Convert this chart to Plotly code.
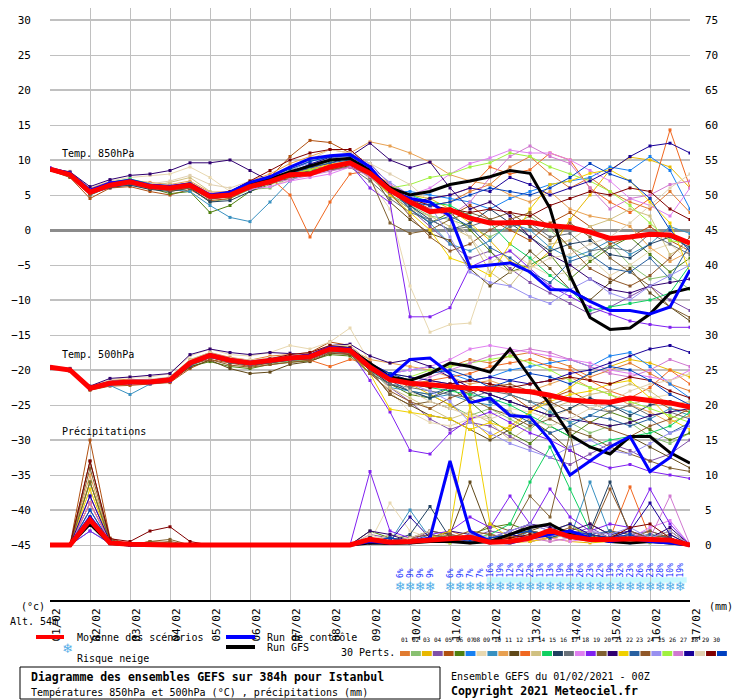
import plotly.graph_objects as go

# time axis: hours from 01/02 00Z, 12h steps
hours = [0, 12, 24, 36, 48, 60, 72, 84, 96, 108, 120, 132, 144, 156, 168, 180, 192,
         204, 216, 228, 240, 252, 264, 276, 288, 300, 312, 324, 336, 348, 360, 372, 384]
day_ticks = [0, 24, 48, 72, 96, 120, 144, 168, 192, 216, 240, 264, 288, 312, 336, 360, 384]
day_labels = ["01/02", "02/02", "03/02", "04/02", "05/02", "06/02", "07/02", "08/02", "09/02",
              "10/02", "11/02", "12/02", "13/02", "14/02", "15/02", "16/02", "17/02"]

member_colors = ["#e07b30", "#88c070", "#e8b800", "#8050a8", "#b05010", "#508010", "#1880f0",
                 "#e8d8b0", "#3890c0", "#e8a050", "#604818", "#f06820", "#d0c080", "#10d060",
                 "#204060", "#687078", "#e080f0", "#8020f0", "#806030", "#300070", "#f0d000",
                 "#2860a0", "#905828", "#9890f0", "#a0f040", "#d078d0", "#180098", "#e0d0b0",
                 "#800000", "#0040c0"]

# Temp 850hPa (°C)
t850_mean = [8.7, 7.9, 5.4, 6.4, 6.9, 6.2, 6.0, 6.4, 4.8, 5.0, 6.2, 6.9, 7.9, 8.0, 9.0, 9.6, 8.1,
             5.7, 4.0, 2.6, 2.9, 1.7, 1.0, 1.0, 1.1, 0.6, 0.4, -0.3, -1.2, -1.0, -0.6, -0.7, -1.9]
t850_ctrl = [8.8, 8.1, 5.7, 6.7, 7.1, 6.4, 6.2, 6.6, 5.0, 5.4, 6.8, 7.6, 9.0, 10.2, 10.6, 10.8, 9.0,
             5.5, 4.5, 4.0, 2.0, -5.3, -5.0, -4.7, -6.0, -8.5, -8.6, -10.2, -11.5, -11.5, -12.0, -11.0, -5.7]
t850_gfs = [8.6, 8.0, 5.5, 6.5, 6.9, 6.2, 6.1, 6.5, 4.9, 5.2, 6.5, 7.3, 8.3, 9.2, 10.0, 10.2, 8.5,
            6.0, 5.0, 5.5, 6.5, 7.0, 7.6, 8.5, 8.1, 3.1, -6.5, -12.5, -14.2, -14.0, -12.0, -9.0, -8.3]
t850_members = [
    [8.8, 8.2, 5.0, 6.8, 7.2, 6.5, 5.5, 6.0, 4.5, 5.5, 6.8, 7.5, 9.0, 10.2, 10.5, 10.0, 8.5, 6.0, 4.5, 3.5, 4.0, 5.5, 6.5, 9.0, 10.5, 8.0, 6.0, 7.5, 5.5, 4.0, 3.0, 5.5, 2.5],
    [8.6, 7.6, 5.8, 6.2, 6.5, 5.8, 6.4, 6.0, 4.0, 4.5, 5.8, 6.0, 7.5, 8.5, 9.2, 9.8, 7.5, 5.0, 3.5, 2.0, 1.5, 0.5, -1.0, 0.5, 2.0, 0.0, -2.5, -4.0, -2.0, -5.0, -7.0, -6.5, -8.5],
    [8.7, 8.0, 5.5, 6.5, 7.0, 6.0, 6.2, 6.8, 5.2, 5.0, 6.0, 7.2, 8.0, 8.8, 10.0, 10.5, 8.0, 6.5, 5.0, 4.5, 3.0, 1.0, -1.5, -4.5, -5.5, -3.0, 1.5, 5.0, 8.6, 10.4, 10.0, 9.0, 6.0],
    [8.9, 7.8, 5.2, 6.0, 6.6, 6.4, 5.8, 6.5, 5.0, 4.8, 6.5, 7.0, 8.2, 9.0, 10.0, 11.0, 9.5, 6.5, 3.0, 0.5, -2.0, -4.0, -3.0, -5.5, -7.5, -9.0, -10.5, -12.0, -11.0, -9.5, -8.0, -10.0, -11.5],
    [8.5, 7.5, 4.5, 6.0, 6.2, 5.5, 5.0, 5.8, 4.2, 4.5, 6.0, 7.5, 10.5, 12.8, 12.5, 11.0, 9.0, 6.0, 4.5, 3.0, 2.0, 3.5, 1.5, 0.0, -1.5, 1.0, 2.5, 0.5, -2.0, -1.0, 0.5, -1.5, -3.0],
    [8.7, 7.7, 5.6, 6.6, 6.8, 6.0, 5.2, 5.5, 2.5, 3.5, 5.5, 6.5, 7.5, 8.0, 8.8, 9.5, 8.0, 5.0, 3.0, 1.0, 2.5, 0.0, -3.0, -6.0, -5.0, -3.5, -7.0, -4.5, -2.5, -1.0, -3.5, -6.0, -4.0],
    [8.8, 8.0, 5.4, 6.7, 7.0, 6.3, 6.0, 6.6, 5.0, 5.3, 6.4, 7.4, 8.5, 9.8, 10.4, 10.5, 8.0, 5.5, 5.5, 5.0, 4.5, 4.0, 3.0, 4.5, 5.5, 6.5, 7.0, 7.5, 9.0, 8.5, 10.5, 8.5, 3.0],
    [8.6, 8.4, 6.0, 7.0, 7.5, 7.8, 8.0, 9.0, 7.5, 5.5, 6.0, 6.5, 7.0, 8.5, 9.5, 10.5, 7.0, 3.0, -8.0, -14.6, -13.5, -13.3, -4.7, -3.0, -5.0, -6.5, -6.0, -4.0, -6.5, -5.0, -3.0, -2.0, -4.5],
    [8.7, 7.9, 5.0, 6.2, 6.5, 6.0, 5.8, 5.5, 3.5, 1.8, 1.2, 4.0, 7.0, 8.5, 9.0, 9.5, 8.5, 6.0, 3.5, 1.0, -2.0, -3.0, -1.5, 1.0, 0.0, -2.5, -4.0, -3.0, -1.5, -3.5, -2.0, 0.5, -0.5],
    [8.7, 8.1, 5.9, 6.9, 7.1, 6.8, 6.5, 7.0, 5.4, 5.5, 7.0, 8.0, 9.5, 10.5, 11.5, 11.0, 12.6, 12.0, 11.0, 9.7, 7.9, 7.0, 6.5, 5.0, 4.0, 5.5, 3.0, 2.0, 1.5, 0.5, -2.5, -4.5, -3.0],
    [8.5, 7.7, 5.3, 6.3, 6.7, 6.1, 5.7, 6.2, 4.4, 4.8, 5.9, 6.6, 7.4, 8.1, 8.6, 9.2, 8.4, 4.0, 1.5, -0.5, -1.5, -5.5, -8.0, -6.0, -3.0, -5.5, -8.5, -10.0, -7.5, -5.5, -9.0, -11.0, -13.0],
    [8.8, 8.1, 5.6, 6.6, 6.8, 6.3, 6.1, 6.5, 4.9, 5.4, 6.5, 7.5, 5.0, -1.0, 4.0, 8.0, 8.5, 6.5, 3.8, 4.5, 5.0, 6.0, 9.0, 8.0, 8.6, 11.0, 10.0, 6.0, 4.0, 2.5, 4.5, 14.3, 6.1],
    [8.6, 7.8, 5.5, 6.4, 6.8, 6.2, 6.8, 7.5, 5.5, 5.0, 6.5, 7.0, 7.5, 8.2, 9.0, 10.0, 7.5, 5.0, 3.0, 2.0, 0.5, -1.0, -6.0, -8.0, -4.5, -2.0, -1.5, 0.5, 1.5, 3.0, 2.0, -3.5, -2.0],
    [8.7, 8.0, 5.7, 6.8, 7.3, 6.6, 6.3, 6.7, 5.0, 5.2, 6.6, 7.3, 8.3, 9.0, 9.8, 10.2, 8.6, 6.2, 5.0, 4.0, 3.5, 2.0, 1.0, -2.0, -4.0, -6.5, -8.5, -11.5, -11.0, -10.5, -10.0, -9.0, -5.0],
    [8.6, 7.9, 5.2, 6.1, 6.4, 5.8, 5.5, 6.0, 4.0, 4.2, 5.5, 6.8, 7.8, 8.5, 9.2, 9.5, 7.8, 5.5, 3.5, 1.5, 0.0, 1.0, 3.0, 1.0, -1.0, -3.0, -2.0, -1.5, -3.5, -4.0, -2.0, -1.0, -2.5],
    [8.7, 7.8, 5.6, 6.5, 6.8, 6.2, 6.1, 6.5, 5.0, 5.0, 6.3, 7.0, 7.7, 8.3, 8.5, 9.0, 7.0, 4.5, 2.5, 1.5, 0.0, 0.5, 1.5, 0.5, 1.0, -1.0, -0.5, -3.0, -2.5, -3.0, -0.5, -2.0, -3.5],
    [8.8, 8.1, 5.6, 6.7, 6.9, 6.4, 6.3, 6.7, 5.2, 5.4, 5.8, 6.2, 7.0, 7.5, 8.0, 9.0, 8.0, 6.5, 5.0, 6.0, 8.0, 9.5, 10.3, 11.4, 11.0, 11.0, 10.0, 8.5, 7.0, 4.5, 3.5, 2.0, 6.0],
    [8.9, 8.2, 5.7, 6.9, 7.0, 6.6, 6.2, 6.5, 4.9, 5.2, 6.6, 7.5, 8.2, 8.8, 9.0, 9.4, 6.0, 3.9, -12.4, -12.4, -11.1, -5.3, -4.0, -3.0, -5.5, -8.0, -9.5, -11.0, -12.0, -13.0, -13.5, -13.9, -13.9],
    [8.6, 7.8, 5.3, 6.4, 6.8, 6.0, 5.6, 6.0, 4.6, 4.9, 6.1, 6.9, 7.8, 8.4, 8.9, 9.4, 7.5, 1.0, -0.5, 0.0, 1.5, 2.5, 1.5, 2.5, 0.5, -1.5, 1.0, -1.0, -4.0, -6.0, -8.0, -11.0, -12.5],
    [8.8, 8.3, 6.2, 7.2, 7.8, 8.0, 8.5, 9.6, 9.6, 10.0, 8.5, 7.0, 8.0, 9.0, 9.5, 10.5, 12.4, 10.0, 8.9, 9.7, 6.0, 3.0, 4.0, 2.0, -1.0, -3.5, -5.0, -7.0, -8.5, -9.0, -8.0, -7.5, -7.0],
    [8.7, 8.0, 5.6, 6.6, 6.9, 6.3, 6.1, 6.5, 4.9, 5.1, 6.3, 7.0, 8.0, 8.7, 9.4, 9.8, 8.0, 5.0, 2.5, 0.0, -4.0, -5.0, -6.5, -2.0, 3.0, 6.5, 7.0, 8.1, 8.6, 7.0, 4.0, 1.0, -6.0],
    [8.7, 7.9, 5.5, 6.5, 6.9, 6.2, 6.0, 6.4, 4.8, 5.1, 6.3, 7.0, 8.1, 8.9, 9.6, 10.0, 8.3, 5.8, 3.0, 1.0, 2.0, 0.5, -2.5, -4.0, -6.0, -7.5, -4.5, -3.5, -5.5, -6.0, -4.0, -7.0, -2.0],
    [8.5, 7.6, 5.0, 6.2, 6.7, 6.0, 5.7, 6.3, 4.5, 4.7, 6.0, 6.8, 7.6, 8.0, 8.6, 9.0, 7.9, 5.3, 2.0, -1.0, -3.0, -2.0, 0.0, 1.5, 2.5, 0.5, -2.5, -5.5, -7.0, -8.0, -6.5, -4.0, -1.0],
    [8.7, 8.0, 5.5, 6.6, 7.1, 6.5, 6.0, 6.2, 4.6, 5.0, 6.5, 7.5, 8.8, 9.5, 10.0, 10.6, 9.0, 6.8, 5.0, 3.5, -1.0, -6.0, -7.5, -8.0, -9.5, -10.5, -8.5, -7.0, -9.0, -10.0, -8.0, -6.5, -5.0],
    [8.6, 7.8, 5.4, 6.5, 6.8, 6.2, 6.2, 6.6, 5.0, 5.2, 6.5, 7.2, 8.0, 8.6, 9.1, 9.5, 8.0, 6.0, 6.5, 7.5, 8.0, 9.0, 9.6, 11.0, 10.5, 9.0, 8.0, 7.0, 5.5, 3.5, 1.0, -1.5, -2.0],
    [8.8, 8.1, 5.7, 6.6, 7.0, 6.3, 5.9, 6.2, 4.7, 5.0, 6.1, 6.8, 7.2, 7.8, 8.4, 9.0, 7.6, 5.4, 4.0, 3.0, 2.0, 4.0, 7.5, 10.5, 12.0, 10.5, 9.5, 6.0, 3.0, 4.5, 5.0, 6.5, 7.0],
    [8.7, 8.0, 5.5, 6.5, 6.9, 6.2, 6.0, 6.4, 4.9, 5.1, 6.3, 7.1, 8.2, 9.4, 10.4, 10.8, 8.5, 5.5, 4.0, 4.5, 5.0, 6.0, 5.5, 7.5, 6.5, 5.0, 6.0, 7.0, 8.5, 10.5, 12.0, 12.4, 11.0],
    [8.6, 7.9, 5.6, 6.6, 6.9, 6.6, 7.0, 7.8, 6.5, 6.0, 7.0, 7.5, 8.5, 10.0, 11.5, 11.0, 9.5, 8.0, 6.5, 4.0, 2.0, -1.0, -4.5, -6.0, -5.5, -4.0, -3.5, -2.0, -1.0, 1.0, 3.5, 6.0, 8.0],
    [8.7, 8.0, 5.5, 6.4, 6.8, 6.2, 6.0, 6.3, 5.0, 5.5, 7.0, 8.5, 10.0, 11.0, 11.5, 11.5, 9.0, 6.0, 4.5, 3.5, 3.0, 2.5, 3.0, 2.5, 2.0, 3.5, 4.5, 5.5, 5.0, 6.0, 5.5, 3.0, 1.5],
    [8.8, 8.1, 5.6, 6.7, 7.0, 6.4, 6.1, 6.6, 5.0, 5.3, 6.6, 7.6, 8.7, 9.8, 10.5, 10.6, 8.8, 6.0, 4.0, 3.5, 4.0, 5.0, 6.0, 5.5, 5.0, 6.0, 7.5, 9.5, 8.0, 7.0, 4.5, 0.0, -3.0],
]

# Temp 500hPa (°C)
t500_mean = [-19.6, -20.0, -22.6, -21.9, -21.7, -21.7, -21.4, -19.0, -17.9, -18.6, -19.0, -18.6, -18.3,
             -18.1, -17.0, -17.2, -19.6, -21.4, -21.9, -22.1, -22.4, -22.6, -22.7, -22.9, -23.1, -23.6,
             -24.3, -24.5, -24.6, -24.0, -24.3, -24.7, -25.3]
t500_ctrl = [-19.6, -20.0, -22.5, -21.8, -21.6, -21.6, -21.3, -18.9, -17.8, -18.5, -18.9, -18.5, -18.2,
             -17.9, -16.8, -17.0, -19.5, -21.0, -18.5, -18.3, -20.5, -24.7, -24.0, -26.5, -26.7, -30.0,
             -35.0, -33.0, -31.0, -29.5, -34.5, -32.5, -27.0]
t500_gfs = [-19.6, -20.0, -22.6, -21.9, -21.7, -21.7, -21.4, -19.0, -17.9, -18.6, -19.0, -18.6, -18.3,
            -18.0, -16.9, -17.1, -19.0, -21.0, -21.5, -20.5, -19.0, -19.5, -20.3, -17.0, -21.0, -25.0,
            -29.3, -31.0, -32.0, -29.5, -29.5, -31.8, -33.3]
t500_members = [
    [-19.5, -19.8, -22.4, -21.5, -21.3, -21.5, -21.0, -18.6, -17.5, -18.2, -18.6, -18.0, -17.8, -17.5, -16.5, -16.8, -19.0, -21.0, -21.5, -20.5, -19.5, -18.5, -19.0, -18.0, -17.5, -18.5, -19.5, -21.0, -20.0, -19.0, -20.5, -22.0, -23.0],
    [-19.7, -20.2, -22.7, -22.0, -21.9, -21.8, -21.7, -19.5, -18.2, -18.8, -19.4, -19.0, -18.8, -18.5, -17.2, -17.5, -20.0, -22.0, -23.0, -23.5, -25.0, -26.5, -25.5, -27.0, -28.5, -26.0, -27.5, -29.0, -28.0, -27.5, -29.5, -30.5, -29.0],
    [-19.6, -19.9, -22.5, -21.8, -21.6, -21.6, -21.2, -18.8, -17.8, -18.5, -19.0, -18.5, -18.2, -18.0, -16.8, -17.0, -19.5, -21.5, -22.0, -23.5, -25.0, -27.0, -29.5, -28.0, -26.0, -24.0, -22.5, -20.5, -19.5, -18.5, -19.0, -20.0, -21.0],
    [-19.8, -20.1, -22.8, -22.2, -22.0, -22.0, -21.6, -19.2, -18.0, -18.8, -19.3, -18.9, -18.5, -18.3, -17.3, -17.5, -19.0, -22.5, -24.5, -27.0, -28.5, -27.5, -28.0, -29.5, -31.0, -32.5, -33.5, -32.0, -30.5, -31.5, -33.0, -32.0, -30.0],
    [-19.5, -20.0, -22.9, -22.3, -22.2, -22.0, -21.8, -19.8, -18.5, -19.0, -19.5, -19.0, -18.5, -17.5, -16.0, -16.5, -19.0, -21.0, -22.5, -21.5, -22.0, -23.5, -22.0, -23.5, -25.5, -24.0, -23.0, -24.5, -26.0, -25.0, -24.0, -25.5, -26.0],
    [-19.6, -20.1, -22.6, -22.0, -21.8, -21.8, -21.5, -19.5, -18.8, -19.5, -19.8, -19.2, -18.9, -18.7, -17.8, -18.0, -20.5, -22.0, -23.5, -24.0, -22.5, -24.5, -27.0, -29.0, -30.5, -28.0, -29.5, -27.5, -26.0, -27.0, -28.5, -30.0, -29.0],
    [-19.6, -19.9, -22.5, -21.8, -21.6, -21.6, -21.3, -18.9, -17.8, -18.4, -18.8, -18.4, -18.1, -17.8, -16.7, -16.9, -19.3, -20.5, -20.0, -19.5, -20.5, -21.5, -21.0, -20.0, -19.5, -19.0, -18.5, -19.5, -18.0, -17.5, -19.5, -22.0, -24.0],
    [-19.5, -19.7, -22.3, -21.4, -21.0, -21.0, -20.5, -18.0, -17.0, -17.8, -18.0, -17.5, -16.5, -17.0, -16.0, -14.0, -19.0, -23.0, -26.0, -27.5, -28.0, -27.0, -26.5, -25.5, -26.0, -27.0, -25.5, -24.5, -26.0, -25.0, -24.0, -23.5, -25.0],
    [-19.7, -20.0, -22.6, -22.2, -23.5, -22.0, -21.6, -19.4, -18.2, -18.9, -19.3, -18.9, -18.6, -18.4, -17.4, -17.6, -20.0, -22.5, -23.0, -24.0, -23.5, -24.5, -25.0, -23.5, -24.5, -26.0, -27.5, -26.5, -25.0, -26.0, -27.0, -25.5, -26.5],
    [-19.5, -19.9, -22.4, -21.7, -21.5, -21.5, -21.2, -18.8, -17.7, -18.4, -18.8, -18.4, -18.1, -17.9, -16.8, -17.0, -18.5, -19.0, -19.5, -20.0, -21.0, -22.0, -21.5, -22.5, -23.0, -22.0, -21.0, -22.5, -23.5, -25.0, -26.0, -27.5, -26.5],
    [-19.7, -20.1, -22.7, -22.0, -21.8, -21.8, -21.6, -19.6, -18.6, -19.8, -20.5, -20.3, -19.2, -18.8, -17.6, -17.8, -20.0, -23.5, -25.0, -26.5, -27.0, -28.5, -30.0, -28.5, -27.0, -29.0, -31.5, -33.0, -31.0, -29.5, -31.0, -32.5, -34.0],
    [-19.6, -20.0, -22.5, -21.9, -21.7, -21.7, -21.4, -19.1, -18.0, -18.7, -19.1, -18.7, -18.4, -18.6, -19.5, -18.5, -19.0, -21.0, -22.0, -21.5, -21.0, -20.5, -19.5, -19.0, -18.5, -19.5, -20.0, -21.5, -23.0, -24.0, -22.5, -20.0, -22.0],
    [-19.6, -20.0, -22.6, -21.9, -21.7, -21.5, -21.0, -18.5, -17.5, -18.5, -19.0, -18.6, -18.3, -18.0, -17.0, -17.2, -20.0, -22.5, -24.0, -25.5, -27.0, -26.0, -27.5, -30.0, -28.0, -25.5, -24.5, -23.5, -23.0, -22.0, -23.0, -25.0, -24.5],
    [-19.6, -20.0, -22.6, -21.9, -21.7, -21.7, -21.4, -19.0, -17.9, -18.6, -19.0, -18.6, -18.3, -18.1, -16.5, -16.8, -19.0, -21.0, -22.0, -22.5, -23.0, -23.5, -24.0, -25.0, -26.5, -28.0, -29.5, -31.0, -30.0, -29.5, -29.0, -28.0, -26.0],
    [-19.6, -20.1, -22.7, -22.0, -21.9, -21.9, -21.6, -19.3, -18.2, -18.9, -19.3, -18.9, -18.6, -18.4, -17.3, -17.5, -20.0, -22.0, -23.0, -24.0, -23.0, -22.5, -23.5, -24.5, -25.5, -26.5, -25.5, -24.0, -25.0, -26.5, -25.0, -24.5, -25.5],
    [-19.6, -20.0, -22.6, -21.9, -21.7, -21.6, -21.3, -19.2, -18.1, -18.7, -19.1, -18.8, -18.5, -18.2, -17.2, -17.5, -20.5, -22.0, -22.5, -23.0, -23.5, -24.0, -23.0, -23.5, -24.5, -25.0, -24.0, -25.5, -26.0, -25.0, -26.5, -26.0, -27.0],
    [-19.5, -19.9, -22.4, -21.7, -21.5, -21.5, -21.2, -18.9, -17.8, -18.5, -19.0, -18.5, -18.2, -18.0, -17.0, -17.3, -19.5, -20.5, -20.0, -19.5, -18.5, -17.0, -16.5, -17.0, -17.5, -18.0, -18.5, -19.0, -20.0, -20.5, -21.0, -21.5, -20.0],
    [-19.7, -20.1, -22.7, -22.1, -21.9, -21.9, -21.6, -19.3, -18.2, -18.8, -19.2, -18.8, -18.5, -18.3, -17.1, -17.3, -21.5, -26.0, -31.5, -32.0, -29.0, -27.0, -26.0, -27.5, -29.0, -30.0, -31.5, -33.0, -34.0, -33.5, -34.5, -35.0, -35.5],
    [-19.6, -20.0, -22.6, -21.9, -21.7, -21.7, -21.4, -19.0, -18.0, -18.6, -19.0, -18.6, -18.3, -18.1, -17.0, -17.3, -20.0, -23.5, -25.0, -24.5, -25.5, -24.0, -25.5, -26.5, -28.0, -27.0, -28.5, -29.5, -31.0, -32.0, -33.0, -34.0, -34.5],
    [-19.5, -19.8, -22.3, -21.2, -21.0, -20.8, -20.5, -17.8, -17.0, -17.5, -17.8, -17.5, -17.6, -17.8, -16.5, -16.3, -18.0, -19.0, -18.5, -19.5, -21.0, -22.5, -23.5, -24.5, -25.5, -26.5, -27.0, -27.5, -28.0, -27.5, -26.5, -26.0, -25.5],
    [-19.6, -20.0, -22.6, -21.9, -21.7, -21.7, -21.4, -19.0, -18.0, -18.7, -19.1, -18.7, -18.4, -18.2, -17.2, -17.4, -20.5, -25.6, -26.0, -26.5, -27.0, -28.5, -27.5, -28.5, -26.0, -24.5, -23.5, -23.0, -22.0, -21.5, -24.0, -27.0, -28.5],
    [-19.6, -20.0, -22.6, -21.9, -21.7, -21.7, -21.4, -19.0, -17.9, -18.6, -19.0, -18.6, -18.3, -18.1, -17.0, -17.2, -19.5, -21.5, -23.0, -23.5, -22.5, -23.0, -24.5, -26.0, -27.5, -29.0, -28.0, -26.5, -27.0, -28.0, -27.0, -29.0, -27.5],
    [-19.7, -20.0, -22.7, -22.0, -21.8, -21.8, -21.5, -19.2, -18.5, -19.3, -19.6, -19.2, -18.9, -18.6, -17.5, -17.7, -20.5, -23.0, -24.5, -25.5, -24.0, -23.0, -22.5, -22.0, -23.0, -24.5, -26.0, -27.5, -28.5, -29.5, -28.0, -27.0, -25.5],
    [-19.6, -20.0, -22.5, -21.8, -21.6, -21.6, -21.3, -18.9, -17.8, -18.5, -18.9, -18.5, -18.2, -18.0, -16.6, -17.0, -19.5, -21.0, -22.0, -23.0, -24.5, -27.5, -29.0, -30.5, -31.5, -32.5, -31.0, -30.0, -31.5, -32.0, -30.5, -29.0, -28.0],
    [-19.6, -20.0, -22.6, -21.9, -21.7, -21.7, -21.4, -19.0, -17.9, -18.6, -19.0, -18.6, -18.3, -18.1, -17.0, -17.2, -19.5, -20.5, -21.0, -20.0, -19.5, -19.0, -18.5, -18.0, -19.0, -20.0, -21.5, -22.5, -23.5, -24.5, -25.5, -26.5, -27.5],
    [-19.5, -19.9, -22.5, -21.8, -21.6, -21.6, -21.3, -18.9, -17.9, -18.6, -19.0, -18.6, -18.3, -18.1, -17.1, -17.3, -19.5, -21.5, -22.0, -21.0, -20.0, -19.0, -18.0, -17.5, -17.0, -17.5, -18.5, -19.5, -20.5, -21.0, -20.0, -18.5, -19.5],
    [-19.6, -20.0, -22.6, -21.9, -21.7, -21.7, -21.4, -19.0, -17.9, -18.6, -19.0, -18.6, -18.3, -17.9, -16.8, -17.0, -19.0, -20.5, -21.0, -21.5, -22.0, -21.5, -21.0, -21.5, -22.0, -21.5, -20.5, -20.0, -19.0, -18.0, -17.0, -16.5, -17.5],
    [-19.6, -20.0, -22.5, -21.7, -21.4, -21.3, -21.0, -18.7, -17.6, -18.3, -18.6, -18.2, -17.8, -17.5, -16.5, -16.5, -19.0, -21.0, -23.0, -24.5, -25.5, -26.5, -27.0, -26.0, -27.0, -28.0, -27.0, -25.5, -24.5, -23.0, -22.0, -21.5, -20.5],
    [-19.6, -20.0, -22.6, -21.9, -21.7, -21.7, -21.4, -19.0, -17.9, -18.6, -19.0, -18.4, -17.8, -17.5, -16.5, -16.8, -19.0, -21.0, -22.0, -22.5, -22.0, -21.5, -22.0, -22.5, -22.0, -21.5, -21.0, -21.5, -22.0, -21.0, -21.5, -23.0, -24.0],
    [-19.6, -20.0, -22.6, -21.9, -21.7, -21.7, -21.4, -19.0, -17.9, -18.6, -19.0, -18.6, -18.3, -18.0, -16.9, -17.1, -19.2, -20.5, -21.5, -20.5, -20.0, -21.0, -22.5, -21.5, -20.5, -21.0, -22.0, -20.5, -19.5, -20.0, -21.5, -23.5, -25.0],
]

# Precipitations (mm)
rr_mean = [0, 0, 3.6, 0.3, 0.1, 0, 0, 0, 0, 0, 0, 0, 0, 0, 0, 0, 0.8, 0.4, 0.5, 0.7, 1.0, 1.1,
           0.4, 0.5, 1.0, 2.1, 1.2, 0.8, 0.8, 0.9, 0.8, 0.7, 0]
rr_ctrl = [0, 0, 4, 0.3, 0, 0, 0, 0, 0, 0, 0, 0, 0, 0, 0, 0, 0.5, 0.3, 0.5, 1, 12, 2, 0.5, 0.3,
           1, 1.5, 2, 1, 0.5, 1, 0.5, 0.3, 0]
rr_gfs = [0, 0, 3, 0.2, 0, 0, 0, 0, 0, 0, 0, 0, 0, 0, 0, 0, 0.3, 0.2, 0.3, 0.5, 0.5, 0.3, 0.5,
          1.5, 2.5, 3, 1.5, 1, 0.5, 0.3, 0.5, 0.3, 0]
rr_members = [
    [0, 0, 6, 0.5, 0, 0, 0, 0, 0, 0, 0, 0, 0, 0, 0, 0, 0.5, 1, 0.3, 0.5, 2, 1, 0.5, 0.3, 1, 2, 3, 1, 0.5, 0.5, 1, 0.5, 0],
    [0, 0, 3, 0.3, 0, 0, 0, 0, 0, 0, 0, 0, 0, 0, 0, 0, 1, 0.5, 0.5, 1, 1.5, 0.5, 0.3, 0.5, 1, 1.5, 2, 1, 2, 0.5, 0.3, 1, 0],
    [0, 0, 9, 0.5, 0, 0, 0, 0, 0, 0, 0, 0, 0, 0, 0, 0, 0.3, 0.5, 1, 0.5, 0.3, 1, 0.5, 0.3, 0.5, 1, 0.5, 0.3, 0.5, 1, 0.5, 0.3, 0],
    [0, 0, 7, 0.4, 0, 0.2, 0, 0, 0, 0, 0, 0, 0, 0, 0, 0, 1.5, 1, 0.5, 2, 1.5, 1, 2, 1.5, 3, 2, 1.5, 2.5, 1, 1.5, 2, 1, 0],
    [0, 0, 15, 1, 0, 0.5, 0.3, 0, 0, 0, 0, 0, 0, 0, 0, 0, 0.5, 0.3, 0.5, 1, 0.5, 1, 0.5, 1, 2, 1, 1.5, 0.5, 1, 0.5, 1, 0.5, 0],
    [0, 0, 5, 0.3, 0, 0, 0, 0, 0, 0, 0, 0, 0, 0, 0, 0, 2, 1, 0.5, 1, 0.5, 1.5, 2.5, 3, 2, 1.5, 2, 1, 0.5, 1, 1.5, 1, 0],
    [0, 0, 4, 0.2, 0, 0, 0, 0, 0, 0, 0, 0, 0, 0, 0, 0, 0.5, 0.3, 0.5, 0.5, 1, 0.5, 0.3, 0.5, 0.5, 1, 2, 0.5, 1, 0.3, 0.5, 1, 0],
    [0, 0, 8, 0.5, 0, 0, 0, 0, 0, 0, 0, 0, 0, 0, 0, 0, 0.5, 6, 2, 1, 0.5, 1, 0.5, 0.5, 1, 0.5, 1, 1.5, 0.5, 1, 0.5, 0.3, 0],
    [0, 0, 2, 0.3, 0, 0, 0, 0, 0, 0, 0, 0, 0, 0, 0, 0, 1, 0.5, 5, 1, 0.5, 1.5, 1, 0.5, 2, 1.5, 1, 9, 1.5, 1, 0.5, 1, 0],
    [0, 0, 10, 0.5, 0, 0.2, 0, 0, 0, 0, 0, 0, 0, 0, 0, 0, 0.3, 0.5, 0.3, 0.5, 1, 0.5, 0.5, 1, 0.5, 1, 1.5, 0.5, 1, 0.5, 0.5, 0.3, 0],
    [0, 0, 12, 0.8, 0, 0.3, 0, 0, 0, 0, 0, 0, 0, 0, 0, 0, 1, 0.5, 1, 2, 1.5, 9, 1.5, 1, 2, 3, 1.5, 1, 2, 1.5, 1, 2, 0],
    [0, 0, 6, 0.3, 0, 0, 0, 0, 0, 0, 0, 0, 0, 0, 0, 0, 0.5, 0.3, 0.5, 1, 0.5, 0.3, 0.5, 0.5, 1, 1, 2, 1.5, 1, 8.3, 1, 0.5, 0],
    [0, 0, 5, 0.4, 0, 0, 0, 0, 0, 0, 0, 0, 0, 0, 0, 0, 0.5, 1.5, 1, 0.5, 1, 2, 1.5, 1, 1.5, 2, 1.5, 1, 0.5, 1, 1.5, 0.5, 0],
    [0, 0, 9, 0.6, 0, 0, 0, 0, 0, 0, 0, 0, 0, 0, 0, 0, 0.5, 0.3, 0.5, 1, 0.5, 1, 1.5, 3, 9, 14, 8, 2, 1, 1.5, 1, 0.5, 0],
    [0, 0, 4, 0.3, 0, 0, 0, 0, 0, 0, 0, 0, 0, 0, 0, 0, 1, 0.5, 1.5, 5.5, 1, 0.5, 1, 1.5, 2, 1, 1.5, 2, 9, 1.5, 1, 0.5, 0],
    [0, 0, 3, 0.2, 0, 0, 0, 0, 0, 0, 0, 0, 0, 0, 0, 0, 0.5, 1, 0.5, 1, 0.5, 1, 0.5, 1.5, 1, 2, 1, 0.5, 1, 0.5, 1, 0.5, 0],
    [0, 0, 7, 0.5, 0, 0, 0, 0, 0, 0, 0, 0, 0, 0, 0, 0, 0.3, 0.5, 0.3, 0.5, 0.3, 0.5, 1, 0.5, 0.5, 1, 0.5, 1, 0.5, 1, 2.5, 3.5, 0],
    [0, 0, 2, 0.2, 0, 0, 0, 0, 0, 0, 0, 0, 0, 0, 0, 0, 10.5, 2, 1, 1.5, 2, 4, 2.5, 7, 3, 8, 4, 2, 3, 2.5, 8, 3, 0],
    [0, 0, 11, 0.7, 0, 0.5, 0.8, 0, 0, 0, 0, 0, 0, 0, 0, 0, 1, 0.5, 1, 0.5, 1.5, 1, 3, 2, 7, 4, 16, 3, 1.5, 1, 2, 1, 0],
    [0, 0, 3, 0.2, 0, 0, 0, 0, 0, 0, 0, 0, 0, 0, 0, 0, 2, 1.5, 0.5, 1, 2, 1.5, 1, 2, 3, 2.5, 2, 3, 1.5, 2, 1, 2.5, 0],
    [0, 0, 8, 0.4, 0, 0, 0, 0, 0, 0, 0, 0, 0, 0, 0, 0, 0.5, 0.3, 0.5, 1, 2, 20, 3, 1, 0.5, 1, 1.5, 0.5, 1, 0.5, 1, 2, 0],
    [0, 0, 4, 0.3, 0, 0, 0, 0, 0, 0, 0, 0, 0, 0, 0, 0, 0.5, 1, 0.5, 1.5, 1, 0.5, 1, 1.5, 2, 1.5, 1, 1.5, 2, 1, 1.5, 1, 0],
    [0, 0, 9, 0.5, 0, 0.3, 0.5, 0, 0, 0, 0, 0, 0, 0, 0, 0, 1, 0.5, 1, 1.5, 1, 2, 1.5, 1, 2, 1.5, 2.5, 1.5, 8, 2, 1, 1.5, 0],
    [0, 0, 5, 0.3, 0, 0, 0, 0, 0, 0, 0, 0, 0, 0, 0, 0, 0.3, 0.5, 0.3, 1, 0.5, 1.5, 1, 2, 3, 2, 1.5, 2, 1.5, 2.5, 1, 2, 0],
    [0, 0, 3, 0.2, 0, 0, 0, 0, 0, 0, 0, 0, 0, 0, 0, 0, 0.5, 0.3, 0.5, 0.5, 0.3, 1, 0.5, 0.5, 1, 2, 3, 1, 0.5, 1, 0.5, 1, 0],
    [0, 0, 6, 0.4, 0, 0, 0, 0, 0, 0, 0, 0, 0, 0, 0, 0, 0.3, 0.5, 0.3, 0.5, 1, 0.5, 0.3, 0.5, 1, 0.5, 1, 2, 1, 1.5, 1, 7, 0],
    [0, 0, 7, 0.5, 0, 0, 0, 0, 0, 0, 0, 0, 0, 0, 0, 0, 1, 0.5, 4, 1, 0.5, 1, 0.5, 1.5, 1, 2, 3, 1.5, 1, 2, 6, 1.5, 0],
    [0, 0, 3, 0.3, 0, 0, 0, 0, 0, 0, 0, 0, 0, 0, 0, 0, 1.5, 0.5, 1, 2, 11, 2, 1, 0.5, 1, 1.5, 1, 0.5, 1, 0.5, 1, 0.5, 0],
    [0, 0, 12, 0.9, 0.5, 2, 2.6, 0.5, 0, 0, 0, 0, 0, 0, 0, 0, 0.5, 0.3, 0.5, 1, 0.5, 1, 0.5, 1, 1.5, 2, 1, 1.5, 1, 2.5, 3, 1, 0],
    [0, 0, 5, 0.4, 0, 0, 0, 0, 0, 0, 0, 0, 0, 0, 0, 0, 0.5, 1, 0.5, 0.5, 1, 0.5, 1, 1.5, 2, 1, 2, 1.5, 1, 1.5, 0.5, 1, 0],
]

# snow risk (%) per 6h step
snow_hours = [210, 216, 222, 228, 240, 246, 252, 258, 264, 270, 276, 282, 288, 294, 300, 306,
              312, 318, 324, 330, 336, 342, 348, 354, 360, 366, 372, 378]
snow_pct = [6, 9, 9, 9, 6, 9, 7, 7, 16, 19, 12, 12, 22, 13, 13, 19, 19, 26, 23, 22, 19, 32, 23,
            26, 23, 28, 10, 19]

MONO = "DejaVu Sans Mono"
# page is offset by the 8px body margin: plot area spans page px x 50..690, y 8..600
PX, PY = lambda X: (X - 50) / 640, lambda Y: (600 - Y) / 592

fig = go.Figure()

for k in range(30):
    c = member_colors[k]
    for ys, ax in ((t850_members[k], "y"), (t500_members[k], "y"), (rr_members[k], "y2")):
        fig.add_trace(go.Scatter(x=hours, y=ys, yaxis=ax, mode="lines+markers",
                                 line=dict(color=c, width=1), marker=dict(color=c, size=3, symbol="square"),
                                 hoverinfo="skip"))

for ys, ax in ((t850_gfs, "y"), (t500_gfs, "y"), (rr_gfs, "y2")):
    fig.add_trace(go.Scatter(x=hours, y=ys, yaxis=ax, mode="lines", line=dict(color="black", width=3)))
for ys, ax in ((t850_ctrl, "y"), (t500_ctrl, "y"), (rr_ctrl, "y2")):
    fig.add_trace(go.Scatter(x=hours, y=ys, yaxis=ax, mode="lines", line=dict(color="#0000ff", width=3)))
for ys, ax in ((t850_mean, "y"), (t500_mean, "y"), (rr_mean, "y2")):
    fig.add_trace(go.Scatter(x=hours, y=ys, yaxis=ax, mode="lines", line=dict(color="#ff0000", width=5)))

# snow risk strip
fig.add_shape(type="rect", x0=262, x1=382, y0=-50.4, y1=-49.6, fillcolor="#c8f8ff", line_width=0, layer="below")
fig.add_trace(go.Scatter(x=snow_hours, y=[-51.1] * len(snow_hours), mode="text", text=["❄"] * len(snow_hours),
                         textfont=dict(size=13, color="#58b0e8", family="DejaVu Sans")))
for h, p in zip(snow_hours, snow_pct):
    fig.add_annotation(x=h, y=-50.0, text="%d%%" % p, textangle=-90, showarrow=False, yanchor="bottom",
                       font=dict(family=MONO, size=8, color="#1830ff"))

# thicker grid every 10
for v in (30, 20, 10, -10, -20, -30, -40):
    fig.add_shape(type="line", xref="paper", x0=0, x1=1, y0=v, y1=v, line=dict(color="#c0c0c0", width=2), layer="below")

fig.update_layout(
    width=732, height=692, showlegend=False, plot_bgcolor="white", paper_bgcolor="white",
    margin=dict(l=42, r=50, t=0, b=100),
    font=dict(family=MONO, size=10, color="black"),
    xaxis=dict(range=[0, 384], tickvals=day_ticks, ticktext=day_labels, tickangle=-90,
               showgrid=True, gridcolor="#c0c0c0", gridwidth=1, showline=True, linecolor="black",
               linewidth=2, ticks="", ticklabelstandoff=2, ticklabelshift=6, zeroline=False,
               tickfont=dict(family=MONO, size=11)),
    yaxis=dict(range=[-52.857, 31.714], tickvals=list(range(-45, 31, 5)), showgrid=True,
               gridcolor="#c0c0c0", gridwidth=1, zeroline=True, zerolinecolor="#8c8c8c",
               zerolinewidth=3, ticks="", ticklabelstandoff=18, tickfont=dict(family=MONO, size=11)),
    yaxis2=dict(range=[-7.857, 76.714], tickvals=list(range(0, 76, 5)), overlaying="y", side="right",
                showgrid=False, zeroline=False, ticks="", ticklabelstandoff=14,
                tickfont=dict(family=MONO, size=11)),
)


def label(x, y, text, size=10, bold=False, xanchor="left"):
    if bold:
        text = "<b>" + text + "</b>"
    fig.add_annotation(xref="paper", yref="paper", x=PX(x), y=PY(y), text=text, borderpad=0,
                       showarrow=False, xanchor=xanchor, yanchor="middle",
                       font=dict(family=MONO, size=size, color="black"))


# panel titles (in data space)
fig.add_annotation(x=6, y=11, text="Temp. 850hPa", showarrow=False, xanchor="left", font=dict(family=MONO, size=10))
fig.add_annotation(x=6, y=-17.8, text="Temp. 500hPa", showarrow=False, xanchor="left", font=dict(family=MONO, size=10))
fig.add_annotation(x=6, y=-28.8, text="Précipitations", showarrow=False, xanchor="left", font=dict(family=MONO, size=10))

label(20, 606, "(°c)")
label(708, 606, "(mm)")
label(9, 622, "Alt. 54m")


def legend_line(x0, x1, y, color):
    fig.add_shape(type="line", xref="paper", yref="paper", x0=PX(x0), x1=PX(x1),
                  y0=PY(y), y1=PY(y), line=dict(color=color, width=4))


legend_line(36, 64, 637, "#ff0000")
label(76, 637, "Moyenne des scénarios")
legend_line(226, 255, 637, "#0000ff")
label(266, 637, "Run de contrôle")
legend_line(226, 255, 647, "black")
label(266, 647, "Run GFS")
fig.add_annotation(xref="paper", yref="paper", x=PX(60), y=PY(658), text="❄",
                   showarrow=False, font=dict(family="DejaVu Sans", size=13, color="#58b0e8"))
label(76, 659, "Risque neige")
label(340, 652, "30 Perts.")

for k in range(30):
    xl = 400 + k * 10.93
    fig.add_shape(type="rect", xref="paper", yref="paper", x0=PX(xl), x1=PX(xl + 9.9),
                  y0=PY(656), y1=PY(651), fillcolor=member_colors[k], line_width=0)
    fig.add_annotation(xref="paper", yref="paper", x=PX(xl + 5), y=PY(644), borderpad=0,
                       text="%02d" % (k + 1), showarrow=False, font=dict(family=MONO, size=6))

fig.add_shape(type="rect", xref="paper", yref="paper", x0=PX(20), x1=PX(440),
              y0=PY(699), y1=PY(667), line=dict(color="black", width=1))
label(30, 677, "Diagramme des ensembles GEFS sur 384h pour Istanbul", size=11.5, bold=True)
label(30, 692, "Températures 850hPa et 500hPa (°C) , précipitations (mm)")
label(450, 676, "Ensemble GEFS du 01/02/2021 - 00Z")
label(450, 691, "Copyright 2021 Meteociel.fr", size=11.5, bold=True)

fig.write_html("out.html")
